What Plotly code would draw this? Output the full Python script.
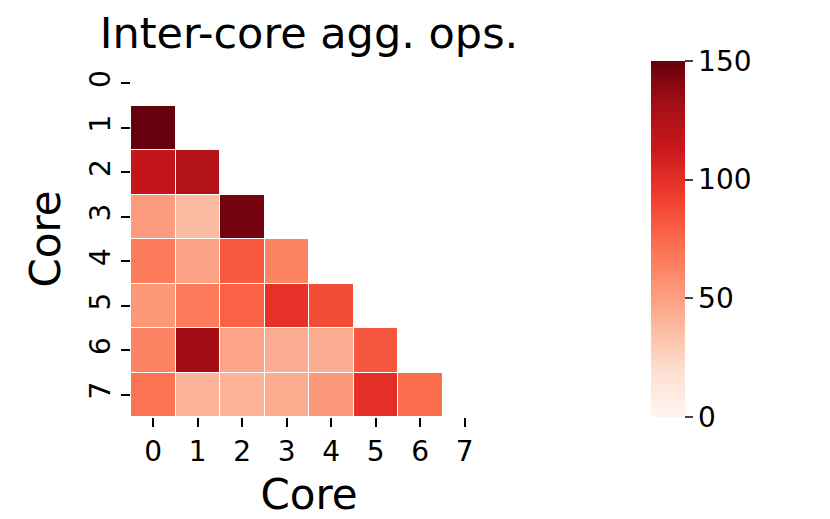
"""Heatmap triangular de operaciones de agregación entre núcleos."""

import plotly.graph_objects as go
import plotly.express as px

cores = [0, 1, 2, 3, 4, 5, 6, 7]
tick_labels = ["0", "1", "2", "3", "4", "5", "6", "7"]

# filas = núcleo origen, columnas = núcleo destino; None = celda enmascarada
row_0 = [None, None, None, None, None, None, None, None]
row_1 = [150, None, None, None, None, None, None, None]
row_2 = [117, 125, None, None, None, None, None, None]
row_3 = [52, 37, 146, None, None, None, None, None]
row_4 = [67, 49, 82, 63, None, None, None, None]
row_5 = [54, 67, 78, 99, 87, None, None, None]
row_6 = [63, 132, 48, 44, 44, 83, None, None]
row_7 = [71, 41, 41, 45, 53, 100, 73, None]

z = [row_0, row_1, row_2, row_3, row_4, row_5, row_6, row_7]

reds = px.colors.sequential.Reds
colorscale = [[i / (len(reds) - 1), c] for i, c in enumerate(reds)]

# la página tiene 8 px de margen en el body: se compensa aquí
OFF = 8
W, H = 830, 519
left, top, right, bottom = 131 - OFF, 61 - OFF, 487 - OFF, 417 - OFF

fig = go.Figure(
    go.Heatmap(
        z=z,
        x=cores,
        y=cores,
        zmin=0,
        zmax=150,
        colorscale=colorscale,
        xgap=1,
        ygap=1,
        hoverongaps=False,
        colorbar=dict(
            x=(651 - 131) / (487 - 131),
            xanchor="left",
            xpad=0,
            y=0.5,
            yanchor="middle",
            ypad=0,
            len=1,
            lenmode="fraction",
            thickness=34,
            outlinewidth=0,
            tickvals=[0, 50, 100, 150],
            ticks="outside",
            ticklen=8,
            tickwidth=1.7,
            tickfont=dict(size=28, color="black"),
        ),
    )
)

fig.update_layout(
    width=W,
    height=H,
    margin=dict(l=left, r=W - right, t=top, b=H - bottom),
    paper_bgcolor="white",
    plot_bgcolor="white",
    font=dict(family="DejaVu Sans", color="black"),
    title=dict(
        text="Inter-core agg. ops.",
        x=(309 - OFF) / W,
        xanchor="center",
        y=1 - (33 - OFF) / H,
        yanchor="middle",
        font=dict(size=43),
    ),
)

fig.update_xaxes(
    tickmode="array",
    tickvals=cores,
    ticktext=tick_labels,
    ticks="outside",
    ticklen=9,
    tickwidth=1.7,
    tickcolor="black",
    tickfont=dict(size=28),
    showgrid=False,
    zeroline=False,
    showline=False,
    range=[-0.5, 7.5],
    title=dict(text="Core", font=dict(size=42), standoff=13),
)

fig.update_yaxes(
    tickmode="array",
    tickvals=cores,
    ticktext=tick_labels,
    tickangle=-90,
    ticks="outside",
    ticklen=9,
    tickwidth=1.7,
    tickcolor="black",
    tickfont=dict(size=28),
    showgrid=False,
    zeroline=False,
    showline=False,
    range=[7.5, -0.5],
    title=dict(text="Core", font=dict(size=42), standoff=10),
)

fig.write_html("out.html")
